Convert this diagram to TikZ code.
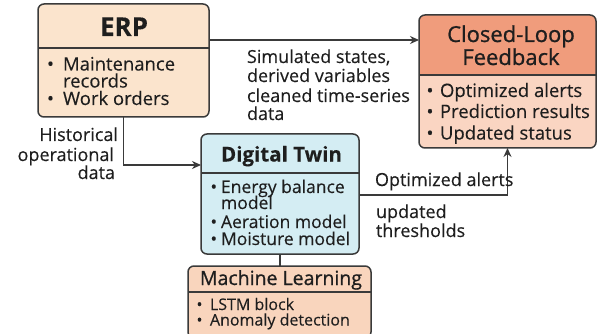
\documentclass[tikz,border=0pt]{standalone}
\usepackage{fontspec}
\setmainfont{Open Sans}[FakeBold=0.25]
\newfontfamily\medfont{Open Sans}[FakeBold=0.9]
\usetikzlibrary{arrows.meta}
\definecolor{linec}{HTML}{3A3A3A}
\definecolor{txtc}{HTML}{1E1E1E}
\definecolor{erpfill}{HTML}{FBE4CD}
\definecolor{cltitle}{HTML}{F09C7C}
\definecolor{clbody}{HTML}{FAD5C2}
\definecolor{dtfill}{HTML}{D4EDF3}
\definecolor{mlfill}{HTML}{F9D5BD}
\newcommand\mybul[2]{\makebox[#1][l]{\textbullet}#2}
\tikzset{
  boxshape/.style={rectangle, inner sep=0pt, outer sep=0pt, anchor=north west, rounded corners=6pt},
  boxline/.style={draw=linec, line width=1.5pt, rounded corners=6pt},
  divline/.style={draw=linec, line width=1.3pt},
  conn/.style={draw=linec, line width=1.4pt},
  arr/.style={conn, -{Stealth[length=9pt,width=8pt]}},
  txt/.style={inner sep=0pt, outer sep=0pt, text=txtc, anchor=base west},
  fs/.style={font=\fontsize{#1}{#1}\selectfont},
  mfs/.style={font=\fontsize{#1}{#1}\selectfont\medfont},
}
\begin{document}
\begin{tikzpicture}[x=1pt,y=-1pt]
\useasboundingbox (0,0) rectangle (597,334);
\fill[white] (0,0) rectangle (597,334);
% ---------------- boxes
\node[boxshape, fill=erpfill, minimum width=171pt, minimum height=113pt] (erp) at (38,4) {};
\node[boxshape, fill=clbody, minimum width=177pt, minimum height=133pt] (cl) at (419,15) {};
\node[boxshape, fill=dtfill, minimum width=158pt, minimum height=120pt] (dt) at (201,134) {};
\node[boxshape, fill=mlfill, minimum width=183pt, minimum height=72pt] (ml) at (188,266) {};
\begin{scope}
  \clip[rounded corners=6pt] (cl.north west) rectangle (cl.south east);
  \fill[cltitle] (cl.north west) rectangle (cl.east |- 0,75);
\end{scope}
\draw[boxline] (erp.north west) rectangle (erp.south east);
\draw[boxline] (cl.north west) rectangle (cl.south east);
\draw[boxline] (dt.north west) rectangle (dt.south east);
\draw[boxline] (ml.north west) rectangle (ml.south east);
\draw[divline] (erp.west |- 0,48) -- (erp.east |- 0,48);
\draw[divline] (cl.west |- 0,75) -- (cl.east |- 0,75);
\draw[divline] (dt.west |- 0,173) -- (dt.east |- 0,173);
\draw[divline] (ml.west |- 0,292) -- (ml.east |- 0,292);
% ---------------- titles
\node[txt, anchor=base, font=\fontsize{26}{26}\selectfont\bfseries] (erpT) at (124,36) {ERP};
\node[txt, anchor=base, mfs=22] (clT1) at (511,42) {Closed-Loop};
\node[txt, anchor=base, mfs=22] (clT2) at (511,65) {Feedback};
\node[txt, anchor=base, font=\fontsize{20.5}{20.5}\selectfont\bfseries] (dtT) at (281.5,161.5) {Digital Twin};
\node[txt, anchor=base, mfs=19.5] (mlT) at (281,285) {Machine Learning};
% ---------------- ERP items
\node[txt, fs=18.5] (e1) at (47,70.5) {\mybul{16pt}{Maintenance}};
\node[txt, fs=18.5] (e2) at (63,87.5) {records};
\node[txt, fs=18.5] (e3) at (47,105) {\mybul{16pt}{Work orders}};
% ---------------- Closed-loop items
\node[txt, fs=18.5] (c1) at (426.5,97) {\mybul{13.5pt}{Optimized alerts}};
\node[txt, fs=18.5] (c2) at (426.5,118) {\mybul{13.5pt}{Prediction results}};
\node[txt, fs=18.5] (c3) at (426.5,139.5) {\mybul{13.5pt}{Updated status}};
% ---------------- Digital twin items
\node[txt, fs=17.5] (d1) at (210.5,193) {\mybul{10.5pt}{Energy balance}};
\node[txt, fs=17.5] (d2) at (221,209) {model};
\node[txt, fs=17.5] (d3) at (210.5,228) {\mybul{10.5pt}{Aeration model}};
\node[txt, fs=17.5] (d4) at (210.5,245) {\mybul{10.5pt}{Moisture model}};
% ---------------- ML items
\node[txt, fs=16] (m1) at (196.5,310) {\mybul{13.5pt}{LSTM block}};
\node[txt, fs=16] (m2) at (196.5,325.5) {\mybul{13.5pt}{Anomaly detection}};
% ---------------- connectors
\draw[arr] (erp.east |- 0,40) -- (cl.west |- 0,40);
\draw[arr] (erp.south) |- (dt.west |- 0,165);
\draw[arr] (dt.east |- 0,195) -| (cl.south);
\draw[conn] (dt.south) -- (dt.south |- ml.north);
% ---------------- connector labels
\node[txt, fs=18] (s1) at (247,63) {Simulated states,};
\node[txt, fs=18] (s2) at (247,82) {derived variables};
\node[txt, fs=18] (s3) at (247,102) {cleaned time-series};
\node[txt, fs=18] (s4) at (247,120) {data};
\node[txt, anchor=base east, fs=18] (h1) at (118,141) {Historical};
\node[txt, anchor=base east, fs=18] (h2) at (114,161) {operational};
\node[txt, anchor=base east, fs=18] (h3) at (115,179) {data};
\node[txt, fs=18] (o1) at (375,186) {Optimized alerts};
\node[txt, fs=18] (u1) at (376,218) {updated};
\node[txt, fs=18] (u2) at (376,237) {thresholds};
\end{tikzpicture}
\end{document}
